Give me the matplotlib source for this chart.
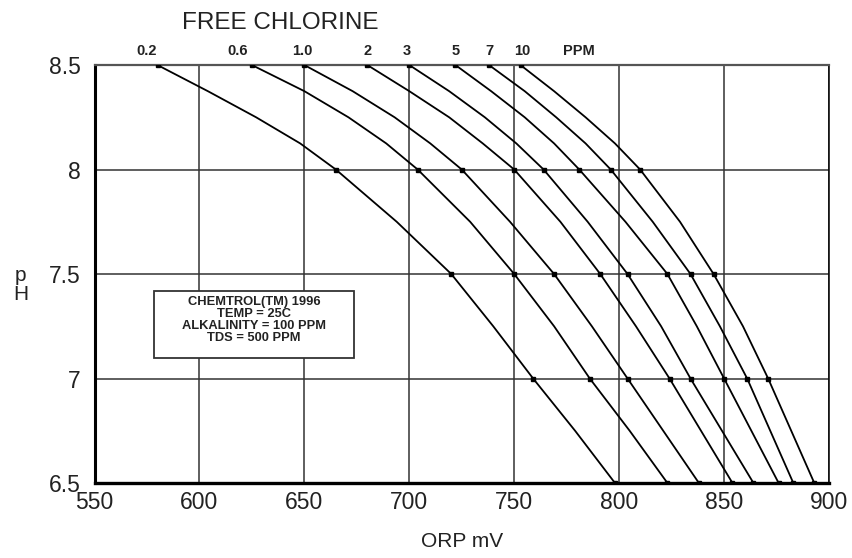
"""
ORP vs pH chart for free chlorine levels.
"""

import matplotlib.pyplot as plt
from matplotlib.patches import Rectangle

plt.rcParams['font.family'] = ['Liberation Sans', 'DejaVu Sans']

PH = [8.5, 8.375, 8.25, 8.125, 8.0, 7.75, 7.5, 7.25, 7.0, 6.75, 6.5]
PH_MARKED = [8.5, 8.0, 7.5, 7.0, 6.5]

# ORP (mV) at the pH levels above
CURVES = {
    '0.2': [580, 604, 627, 648, 665, 694, 720, 740, 759, 779, 798],
    '0.6': [625, 650, 671, 689, 704, 729, 750, 769, 786, 805, 823],
    '1.0': [650, 673, 693, 710, 725, 748, 769, 787, 804, 821, 838],
    '2':   [680, 700, 719, 735, 750, 772, 791, 808, 824, 839, 854],
    '3':   [700, 719, 736, 751, 764, 785, 804, 820, 834, 849, 864],
    '5':   [722, 739, 755, 769, 781, 803, 823, 837, 850, 863, 876],
    '7':   [738, 755, 770, 784, 796, 816, 834, 848, 861, 872, 883],
    '10':  [753, 769, 784, 798, 810, 829, 845, 859, 871, 882, 893],
}
LABEL_X = [575, 618, 649, 680, 699, 722, 738, 754]

X_TICKS = [550, 600, 650, 700, 750, 800, 850, 900]
Y_TICKS = [6.5, 7, 7.5, 8, 8.5]
Y_TICK_LABELS = ['6.5', '7', '7.5', '8', '8.5']

NOTE = ['CHEMTROL(TM) 1996', 'TEMP = 25C', 'ALKALINITY = 100 PPM',
        'TDS = 500 PPM']

fig = plt.figure(figsize=(8.52, 5.58), dpi=100)
ax = fig.add_axes([0.111, 0.1344, 0.862, 0.749])

for name, orp in CURVES.items():
    ax.plot(orp, PH, color='black', linewidth=1.3, zorder=3)
    marked = [x for x, p in zip(orp, PH) if p in PH_MARKED]
    ax.plot(marked, PH_MARKED, 's', color='black', markersize=3.5, zorder=4)

ax.set_xlim(550, 900)
ax.set_ylim(6.5, 8.5)
ax.set_xticks(X_TICKS)
ax.set_yticks(Y_TICKS)
ax.set_yticklabels(Y_TICK_LABELS)
ax.tick_params(length=0, labelsize=16.5, colors='#222222')
ax.tick_params(axis='y', pad=10)
ax.tick_params(axis='x', pad=6)
ax.grid(True, color='#333333', linewidth=1.1)
ax.set_axisbelow(True)

ax.spines['left'].set_linewidth(2.2)
ax.spines['bottom'].set_linewidth(2.4)
ax.spines['top'].set_color('#555555')
ax.spines['top'].set_linewidth(1.6)
ax.spines['right'].set_linewidth(1.1)

ax.set_xlabel('ORP mV', fontsize=15, color='#222222', labelpad=13)
fig.text(0.024, 0.49, 'p\nH', fontsize=15, ha='center', va='center',
         color='#222222', linespacing=1.0)

# top concentration labels
for name, x in zip(CURVES.keys(), LABEL_X):
    ax.text(x, 8.535, name, fontsize=10.5, fontweight='bold', ha='center',
            va='bottom', color='#222222')
ax.text(781, 8.535, 'PPM', fontsize=10.5, fontweight='bold', ha='center',
        va='bottom', color='#222222')
fig.text(280 / 852, 1 - 23 / 558, 'FREE CHLORINE', fontsize=17.5,
         ha='center', va='center', color='#222222')

# note box
ax.add_patch(Rectangle((578.5, 7.10), 95, 0.32, facecolor='white',
                       edgecolor='#333333', linewidth=1.3, zorder=5))
for i, line in enumerate(NOTE):
    ax.text(626, 7.365 - i * 0.057, line, fontsize=9.3, fontweight='bold',
            ha='center', va='center', color='#222222', zorder=6)

fig.savefig('out.png', dpi=100)
